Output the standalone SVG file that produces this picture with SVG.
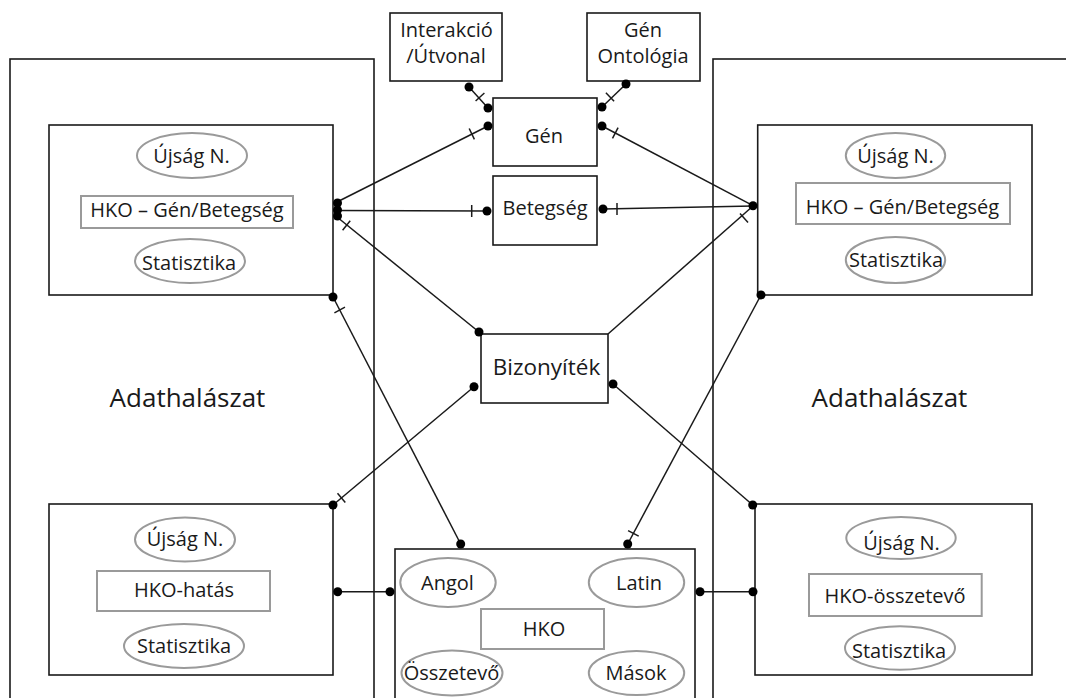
<svg xmlns="http://www.w3.org/2000/svg" width="1066" height="698" viewBox="0 0 1066 698">
<style>
  .box{fill:none;stroke:#1a1a1a;stroke-width:1.6}
  .nb{fill:#fff;stroke:#1a1a1a;stroke-width:1.6}
  .g{fill:none;stroke:#9a9a9a;stroke-width:2}
  .t{font-family:"Open Sans","Noto Sans",sans-serif;font-size:20px;fill:#1a1a1a;text-anchor:middle}
  .big{font-size:26px}
  .mid{font-size:22.5px}
  .c line,.c path{stroke:#1a1a1a;stroke-width:1.5;fill:none}
  .d circle{fill:#000}
</style>
<rect width="1066" height="698" fill="#fff"/>

<g id="left-region">
  <rect class="box" x="10" y="59" width="364" height="680"/>
  <text class="t big" x="187.5" y="407">Adathalászat</text>
</g>
<g id="right-region">
  <rect class="box" x="713" y="59" width="400" height="680"/>
  <text class="t big" x="889.5" y="407">Adathalászat</text>
</g>

<g id="connectors" class="c">
  <line x1="469" y1="87" x2="488" y2="108"/>
  <line x1="484.4" y1="93" x2="475.6" y2="101"/>
  <line x1="626" y1="84" x2="602" y2="107"/>
  <line x1="614.1" y1="101.3" x2="605.9" y2="92.7"/>
  <line x1="488" y1="126" x2="337" y2="202"/>
  <line x1="474.4" y1="139.3" x2="469.2" y2="128.5"/>
  <line x1="487" y1="211" x2="337" y2="210.5"/>
  <line x1="471.7" y1="205" x2="471.7" y2="217"/>
  <line x1="337" y1="217" x2="479" y2="332"/>
  <line x1="350.2" y1="220.8" x2="342.6" y2="230.2"/>
  <line x1="602" y1="126" x2="753" y2="205.7"/>
  <line x1="618.1" y1="127.7" x2="612.5" y2="138.3"/>
  <line x1="603" y1="209" x2="753" y2="206"/>
  <line x1="617" y1="203" x2="617" y2="215"/>
  <line x1="608" y1="334" x2="753" y2="206"/>
  <line x1="748" y1="222.5" x2="740" y2="213.5"/>
  <line x1="333" y1="297" x2="460.7" y2="544"/>
  <line x1="345" y1="307.2" x2="334.4" y2="312.8"/>
  <line x1="761" y1="295" x2="627.7" y2="544"/>
  <line x1="638.7" y1="536.2" x2="628.1" y2="530.6"/>
  <line x1="474" y1="386.7" x2="333" y2="505"/>
  <line x1="345.3" y1="502.5" x2="337.5" y2="493.3"/>
  <line x1="613" y1="384" x2="752.7" y2="505"/>
  <line x1="337.7" y1="591.7" x2="390" y2="591.7"/>
  <line x1="700" y1="591.7" x2="753" y2="591.7"/>
</g>

<g id="interakcio">
  <rect class="nb" x="390" y="13" width="112" height="68"/>
  <text class="t" x="446.5" y="37">Interakció</text>
  <text class="t" x="446" y="63">/Útvonal</text>
</g>
<g id="gen-ontologia">
  <rect class="nb" x="587" y="13" width="113" height="68"/>
  <text class="t" x="643" y="37">Gén</text>
  <text class="t" x="643" y="63">Ontológia</text>
</g>
<g id="gen">
  <rect class="nb" x="493" y="98" width="104" height="68"/>
  <text class="t" x="544" y="143">Gén</text>
</g>
<g id="betegseg">
  <rect class="nb" x="493" y="176" width="104" height="69"/>
  <text class="t" x="545" y="215">Betegség</text>
</g>
<g id="bizonyitek">
  <rect class="nb" x="481" y="334" width="127" height="69"/>
  <text class="t mid" x="546.5" y="375">Bizonyíték</text>
</g>

<g id="left-top">
  <rect class="box" x="49" y="125" width="284" height="170"/>
  <ellipse class="g" cx="192" cy="155.5" rx="55" ry="22.5"/>
  <text class="t" x="191.5" y="163">Újság N.</text>
  <rect class="g" x="81" y="196" width="212" height="32"/>
  <text class="t" x="187" y="217">HKO – Gén/Betegség</text>
  <ellipse class="g" cx="190" cy="261" rx="55" ry="22"/>
  <text class="t" x="189" y="270">Statisztika</text>
</g>
<g id="right-top">
  <rect class="box" x="757.7" y="125" width="274.3" height="170"/>
  <ellipse class="g" cx="895.5" cy="155.5" rx="49.7" ry="22.5"/>
  <text class="t" x="895.5" y="163">Újság N.</text>
  <rect class="g" x="796" y="183" width="214" height="41"/>
  <text class="t" x="902.5" y="214">HKO – Gén/Betegség</text>
  <ellipse class="g" cx="895.5" cy="260" rx="49.7" ry="23"/>
  <text class="t" x="896" y="267">Statisztika</text>
</g>
<g id="left-bottom">
  <rect class="box" x="49" y="504" width="284" height="171"/>
  <ellipse class="g" cx="185" cy="539.5" rx="50" ry="22"/>
  <text class="t" x="185" y="546">Újság N.</text>
  <rect class="g" x="97" y="571" width="173" height="40"/>
  <text class="t" x="184" y="597">HKO-hatás</text>
  <ellipse class="g" cx="184" cy="646" rx="60" ry="22"/>
  <text class="t" x="184" y="653">Statisztika</text>
</g>
<g id="right-bottom">
  <rect class="box" x="755" y="504" width="277" height="171"/>
  <ellipse class="g" cx="901" cy="538" rx="54.7" ry="21"/>
  <text class="t" x="901.5" y="550">Újság N.</text>
  <rect class="g" x="809" y="574" width="172.7" height="42"/>
  <text class="t" x="895" y="602.5">HKO-összetevő</text>
  <ellipse class="g" cx="900" cy="648" rx="55" ry="21.7"/>
  <text class="t" x="899" y="658">Statisztika</text>
</g>
<g id="hko">
  <rect class="nb" x="395" y="549" width="300" height="190"/>
  <ellipse class="g" cx="448" cy="582.5" rx="47.7" ry="24.5"/>
  <text class="t" x="447.5" y="590">Angol</text>
  <ellipse class="g" cx="636.5" cy="582.5" rx="47.7" ry="24.5"/>
  <text class="t" x="639" y="590">Latin</text>
  <rect class="g" x="481" y="609" width="123" height="40"/>
  <text class="t" x="544" y="636">HKO</text>
  <ellipse class="g" cx="452" cy="673" rx="50.5" ry="22.5"/>
  <text class="t" x="451.5" y="680">Összetevő</text>
  <ellipse class="g" cx="636.5" cy="673" rx="47.7" ry="22"/>
  <text class="t" x="636" y="680">Mások</text>
</g>

<g id="dots" class="d">
  <circle cx="469" cy="87" r="4.5"/>
  <circle cx="488" cy="108" r="4.5"/>
  <circle cx="626" cy="84" r="4.5"/>
  <circle cx="602" cy="107" r="4.5"/>
  <circle cx="488" cy="126" r="4.5"/>
  <circle cx="602" cy="126" r="4.5"/>
  <circle cx="487" cy="211" r="4.5"/>
  <circle cx="603" cy="209" r="4.5"/>
  <circle cx="337.5" cy="203" r="4.5"/>
  <circle cx="337.5" cy="210" r="4.5"/>
  <circle cx="337.5" cy="216" r="4.5"/>
  <circle cx="753" cy="205.7" r="4.5"/>
  <circle cx="479" cy="332" r="4.5"/>
  <circle cx="474" cy="386.7" r="4.5"/>
  <circle cx="613" cy="384" r="4.5"/>
  <circle cx="333" cy="297" r="4.5"/>
  <circle cx="761" cy="295" r="4.5"/>
  <circle cx="460.7" cy="544" r="4.5"/>
  <circle cx="627.7" cy="544" r="4.5"/>
  <circle cx="333" cy="505" r="4.5"/>
  <circle cx="752.7" cy="505" r="4.5"/>
  <circle cx="337.7" cy="591.7" r="4.5"/>
  <circle cx="390" cy="591.7" r="4.5"/>
  <circle cx="700" cy="591.7" r="4.5"/>
  <circle cx="753" cy="591.7" r="4.5"/>
</g>
</svg>
